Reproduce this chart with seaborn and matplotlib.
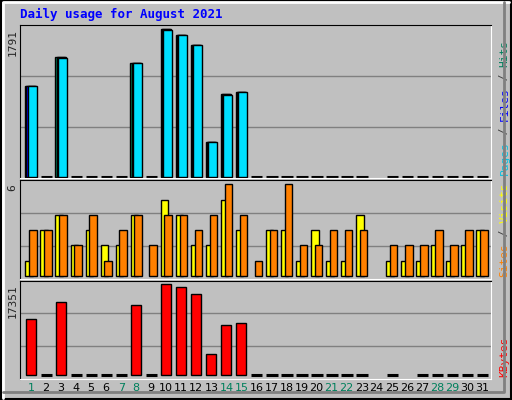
import matplotlib
matplotlib.use("Agg")
import matplotlib.pyplot as plt
import numpy as np
import seaborn as sns

sns.set_style("white")
plt.rcParams['font.family'] = ['DejaVu Sans Mono', 'DejaVu Sans']

nan = np.nan
days = np.arange(1, 32)
weekend = [1, 7, 8, 14, 15, 21, 22, 28, 29]

hits = [1099, 0, 1452, 0, 0, 0, 0, 1383, 0, 1791, 1724, 1602, 420, 1001, 1030,
        0, 0, 0, 0, 0, 0, 0, 0, nan, 0, 0, 0, 0, 0, 0, 0]
files = [1099, 0, 1452, 0, 0, 0, 0, 1383, 0, 1791, 1724, 1602, 420, 1001, 1030,
         0, 0, 0, 0, 0, 0, 0, 0, nan, 0, 0, 0, 0, 0, 0, 0]
pages = [1095, 0, 1440, 0, 0, 0, 0, 1380, 0, 1781, 1720, 1600, 418, 989, 1028,
         0, 0, 0, 0, 0, 0, 0, 0, nan, 0, 0, 0, 0, 0, 0, 0]
visits = [1, 3, 4, 2, 3, 2, 2, 4, 0, 5, 4, 2, 2, 5, 3,
          0, 3, 3, 1, 3, 1, 1, 4, nan, 1, 1, 1, 2, 1, 2, 3]
sites = [3, 3, 4, 2, 4, 1, 3, 4, 2, 4, 4, 3, 4, 6, 4,
         1, 3, 6, 2, 2, 3, 3, 3, nan, 2, 2, 2, 3, 2, 3, 3]
kbytes = [10677, 0, 13918, 0, 0, 0, 0, 13347, 0, 17351, 16779, 15444, 4004, 9534, 9915,
          0, 0, 0, 0, 0, 0, 0, 0, nan, 0, nan, 0, 0, 0, 0, 0]

GRAY = '#C0C0C0'
fig = plt.figure(figsize=(5.12, 4.0), dpi=100, facecolor=GRAY)

# bevelled frame
fig.patches.append(plt.Rectangle((0.002, 0.002), 0.996, 0.996, transform=fig.transFigure,
                                 fill=False, ec='black', lw=1.5))
fig.lines.append(plt.Line2D([0.006, 0.006, 0.994], [0.006, 0.994, 0.994], transform=fig.transFigure,
                            color='white', lw=2))
fig.lines.append(plt.Line2D([0.006, 0.985, 0.985], [0.02, 0.02, 0.994], transform=fig.transFigure,
                            color='#808080', lw=2))

fig.text(20 / 512, 1 - 14 / 400, 'Daily usage for August 2021', color='#0000FF',
         fontsize=9, fontweight='bold', va='center')


def make_ax(top, bottom):
    ax = fig.add_axes([20 / 512, 1 - bottom / 400, 471 / 512, (bottom - top) / 400])
    ax.set_facecolor(GRAY)
    ax.set_xlim(0.27, 31.6)
    ax.set_xticks([])
    for s in ax.spines.values():
        s.set_color('black')
    ax.spines['right'].set_color('white')
    ax.spines['bottom'].set_color('white')
    return ax


def zero_marks(ax, vals, x0, w):
    for d, v in zip(days, vals):
        if v == 0:
            ax.plot([d + x0, d + x0 + w], [0, 0], color='black', lw=2.2, solid_capstyle='butt')


def bars(ax, vals, x0, w, color):
    v = np.array(vals, dtype=float)
    m = v > 0
    ax.bar(days[m] + x0, v[m], width=w, align='edge', color=color, edgecolor='black', lw=1, zorder=3)


def right_label(ax, parts):
    y = 0.02
    for txt, col in parts:
        t = ax.text(1.018, y, txt, transform=ax.transAxes, rotation=90, color=col,
                    fontsize=8, ha='left', va='bottom')
        fig.canvas.draw()
        bb = t.get_window_extent().transformed(ax.transAxes.inverted())
        y = bb.y1


# top: hits / files / pages
ax1 = make_ax(25, 178)
ax1.set_ylim(-18, 1843)
for g in (603, 1221):
    ax1.axhline(g, color='#808080', lw=1, zorder=1)
bars(ax1, hits, -0.38, 0.62, '#00805C')
bars(ax1, files, -0.3, 0.62, '#0000FF')
bars(ax1, pages, -0.22, 0.62, '#00E0FF')
zero_marks(ax1, hits, -0.35, 0.75)
ax1.set_yticks([1791], ['1791'], rotation=90, va='top', fontsize=8)
ax1.tick_params(axis='y', length=0, pad=2)
right_label(ax1, [('Pages', '#00C0E0'), (' / ', '#404040'), ('Files', '#0000FF'),
                  (' / ', '#404040'), ('Hits', '#00805C')])

# middle: visits / sites
ax2 = make_ax(180, 279)
ax2.set_ylim(-0.2, 6.28)
for g in (1.94, 4.1):
    ax2.axhline(g, color='#808080', lw=1, zorder=1)
bars(ax2, visits, -0.37, 0.5, '#FFFF00')
bars(ax2, sites, -0.12, 0.5, '#FF8000')
ax2.set_yticks([6], ['6'], rotation=90, va='top', fontsize=8)
ax2.tick_params(axis='y', length=0, pad=2)
right_label(ax2, [('Sites', '#FF8000'), (' / ', '#404040'), ('Visits', '#FFFF00')])

# bottom: kbytes
ax3 = make_ax(281, 379)
ax3.set_ylim(-705, 17980)
for g in (5530, 11823):
    ax3.axhline(g, color='#808080', lw=1, zorder=1)
bars(ax3, kbytes, -0.33, 0.66, '#FF0000')
zero_marks(ax3, kbytes, -0.35, 0.75)
ax3.set_yticks([17351], ['17351'], rotation=90, va='top', fontsize=8)
ax3.tick_params(axis='y', length=0, pad=2)
right_label(ax3, [('KBytes', '#FF0000')])

for d in days:
    ax3.text(d, -0.09, str(d), transform=ax3.get_xaxis_transform(), ha='center', va='center',
             fontsize=8, family='DejaVu Sans',
             color='#00805C' if d in weekend else 'black')

fig.savefig('out.png', dpi=100, facecolor=GRAY)
